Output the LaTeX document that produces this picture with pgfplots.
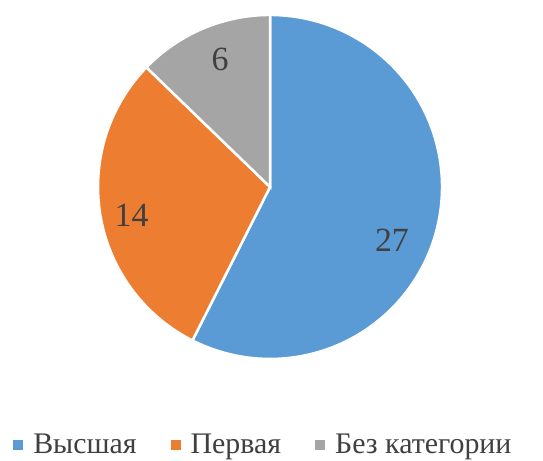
\documentclass[border=0pt]{standalone}
\usepackage{pgfplots}
\pgfplotsset{compat=1.18}
\usepackage{fontspec}
\setmainfont{Liberation Serif}
\definecolor{cA}{HTML}{5B9BD5}
\definecolor{cB}{HTML}{ED7D31}
\definecolor{cC}{HTML}{A5A5A5}
\definecolor{txt}{HTML}{404040}
\pgfplotsset{sqlegend/.style={legend image code/.code={\fill[##1, draw=none] (0bp,-5bp) rectangle (10bp,5bp);}}}
\begin{document}
\begin{tikzpicture}
% values
\def\vA{27}\def\vB{14}\def\vC{6}
\pgfmathsetmacro\tot{\vA+\vB+\vC}
\pgfmathsetmacro\aA{90}
\pgfmathsetmacro\aB{90-360*\vA/\tot}
\pgfmathsetmacro\aC{\aB-360*\vB/\tot}
\pgfmathsetmacro\aD{\aC-360*\vC/\tot}
\begin{axis}[
  x=172bp, y=172bp,
  xmin=-1.570, xmax=1.587, ymin=-1.593, ymax=1.087,
  hide axis, clip=false,
  legend columns=3,
  legend style={draw=none, fill=none, at={(axis cs:-1.494,-1.500)}, anchor=west,
    font=\fontsize{30}{34}\selectfont, text=txt,
    nodes={inner sep=0pt},
    /tikz/every odd column/.append style={column sep=10bp},
    /tikz/every even column/.append style={column sep=34bp},
    inner sep=0pt},
  legend cell align=left,
]
\path (axis cs:-1.570,-1.593) rectangle (axis cs:1.587,1.087);
\addplot[forget plot, fill=cA, draw=white, line width=2.5bp, domain=\aB:\aA, samples=150]
  ({cos(x)},{sin(x)}) -- (axis cs:0,0) -- cycle;
\addplot[forget plot, fill=cB, draw=white, line width=2.5bp, domain=\aC:\aB, samples=100]
  ({cos(x)},{sin(x)}) -- (axis cs:0,0) -- cycle;
\addplot[forget plot, fill=cC, draw=white, line width=2.5bp, domain=\aD:\aC, samples=60]
  ({cos(x)},{sin(x)}) -- (axis cs:0,0) -- cycle;
\node[font=\fontsize{34}{38}\selectfont, text=txt] at (axis cs:0.709,-0.308) {27};
\node[font=\fontsize{34}{38}\selectfont, text=txt] at (axis cs:-0.805,-0.163) {14};
\node[font=\fontsize{34}{38}\selectfont, text=txt] at (axis cs:-0.291,0.744) {6};
\addlegendimage{sqlegend, fill=cA}
\addlegendentry{Высшая}
\addlegendimage{sqlegend, fill=cB}
\addlegendentry{Первая}
\addlegendimage{sqlegend, fill=cC}
\addlegendentry{Без категории}
\end{axis}
\end{tikzpicture}
\end{document}
